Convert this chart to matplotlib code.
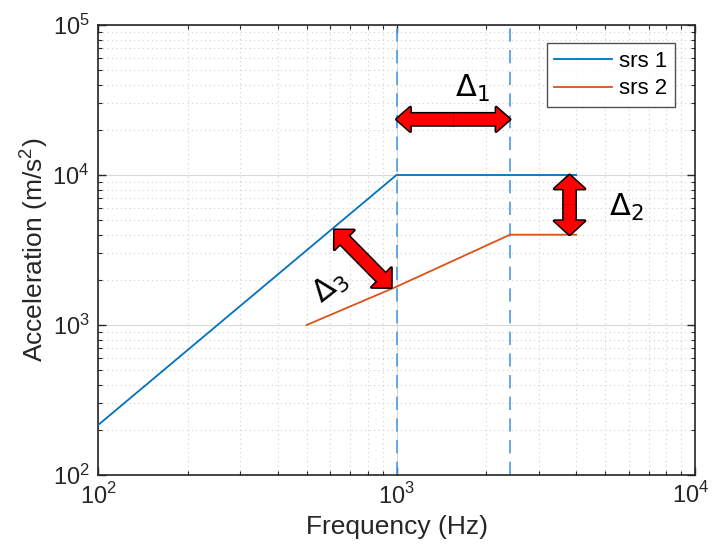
import numpy as np
import matplotlib
matplotlib.use('Agg')
import matplotlib.pyplot as plt
from matplotlib.patches import FancyArrowPatch
from matplotlib.ticker import LogLocator, NullFormatter

plt.rcParams['font.family'] = ['Liberation Sans', 'DejaVu Sans']
plt.rcParams['mathtext.fontset'] = 'custom'
plt.rcParams['mathtext.rm'] = 'Liberation Sans'

# data
srs1_f = [100, 1000, 4000]
srs1_a = [215, 10000, 10000]
srs2_f = [500, 1000, 2400, 4000]
srs2_a = [1000, 1800, 4000, 4000]
vlines_f = [1000, 2400]
xticks = [100, 1000, 10000]
xticklabels = ['$10^2$', '$10^3$', '$10^4$']

# annotation arrows (start, end) in data coords
arrows = [
    ((1000, 23500), (2400, 23500)),   # delta 1
    ((3800, 10000), (3800, 4000)),    # delta 2
    ((620, 4300), (960, 1780)),       # delta 3
]
arrow_head = [1.75, 2.2, 2.0]
labels = [r'$\mathregular{\Delta_1}$', r'$\mathregular{\Delta_2}$', r'$\mathregular{\Delta_3}$']
label_pos = [(1800, 38000), (5900, 6100), (600, 1800)]
label_rot = [0, 0, 38]

fig = plt.figure(figsize=(7.12, 5.54), dpi=100)
ax = fig.add_axes([98/712, 79/554, 597/712, 450/554])

ax.plot(srs1_f, srs1_a, color='#0072BD', lw=1.3, label='srs 1', zorder=3)
ax.plot(srs2_f, srs2_a, color='#D95319', lw=1.3, label='srs 2', zorder=3)
for f in vlines_f:
    ax.axvline(f, color='#4D9BE0', lw=1.2, ls=(0, (8, 5)), zorder=2)

ax.set_xscale('log')
ax.set_yscale('log')
ax.set_xlim(100, 1e4)
ax.set_ylim(100, 1e5)

ax.grid(True, which='major', color='#d9d9d9', lw=0.8, ls='-')
ax.grid(True, which='minor', color='#d0d0d0', lw=0.8, ls=(0, (1, 3)))
ax.xaxis.set_minor_locator(LogLocator(base=10, subs=np.arange(2, 10)))
ax.yaxis.set_minor_locator(LogLocator(base=10, subs=np.arange(2, 10)))
ax.xaxis.set_minor_formatter(NullFormatter())
ax.yaxis.set_minor_formatter(NullFormatter())
# last x label drawn separately so it stays inside the figure
ax.set_xticks(xticks, labels=xticklabels[:-1] + [''])
ax.tick_params(which='both', direction='in', top=True, right=True, color='#262626')
ax.tick_params(which='major', length=6, width=1, labelsize=17, colors='#262626', pad=6)
ax.tick_params(which='minor', length=3, width=0.8)
for s in ax.spines.values():
    s.set_color('#262626')
    s.set_linewidth(1.2)
fig.text(709/712, 1 - 495/554, xticklabels[-1], fontsize=17, color='#262626',
         ha='right', va='center')

ax.set_xlabel('Frequency (Hz)', fontsize=19, color='#262626', labelpad=4)
ax.set_ylabel('Acceleration (m/s$^2$)', fontsize=19, color='#262626', labelpad=2)

leg = ax.legend(loc='upper right', fontsize=16, frameon=True, fancybox=False,
                edgecolor='#262626', handlelength=2.6, borderpad=0.35,
                labelspacing=0.3, handletextpad=0.3, bbox_to_anchor=(0.985, 0.985))
leg.get_frame().set_linewidth(1.0)

for (p0, p1), hw in zip(arrows, arrow_head):
    style = f'simple,head_length=1.0,head_width={hw},tail_width=0.85'
    mid = (np.sqrt(p0[0] * p1[0]), np.sqrt(p0[1] * p1[1]))
    # black outline first, then red fill on top to hide the seam
    for ec, lw, z in [('black', 2.2, 5), ('none', 0, 6)]:
        for end in (p0, p1):
            a = FancyArrowPatch(mid, end, arrowstyle=style, mutation_scale=10,
                                shrinkA=0, shrinkB=0, fc='red', ec=ec, lw=lw, zorder=z)
            ax.add_patch(a)

for txt, pos, rot in zip(labels, label_pos, label_rot):
    ax.text(pos[0], pos[1], txt, fontsize=22, ha='center', va='center',
            rotation=rot, zorder=7, family=['DejaVu Sans'])

fig.savefig('out.png', dpi=100)
